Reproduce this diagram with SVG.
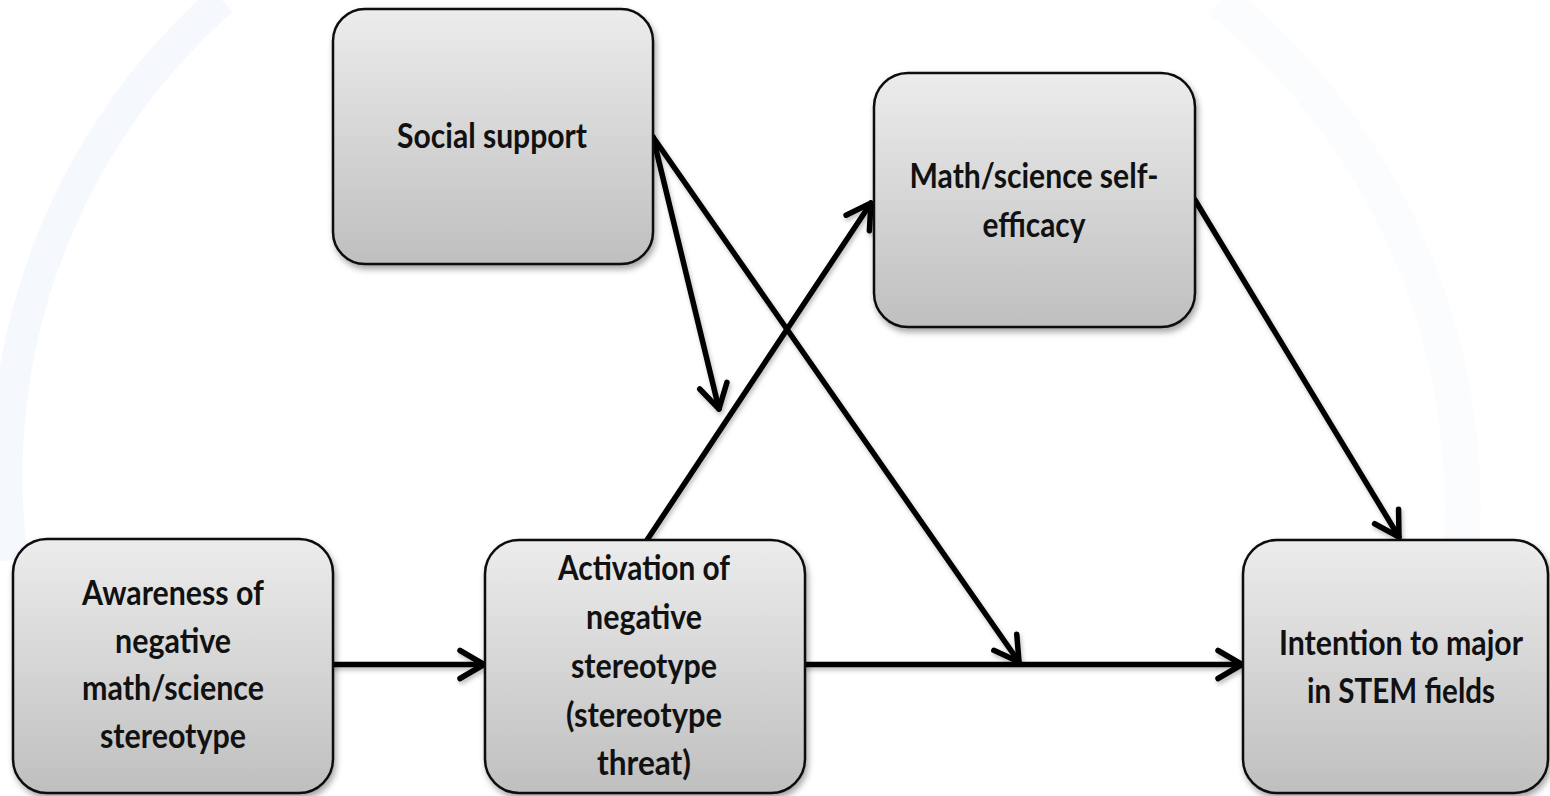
<svg xmlns="http://www.w3.org/2000/svg" width="1550" height="796" viewBox="0 0 1550 796">
<style>
.node rect { fill: url(#g); stroke: #0d0d0d; stroke-width: 2.5; filter: url(#sh); }
.node text { font-family: Lato, "Open Sans", "Liberation Sans", sans-serif; font-weight: bold; font-size: 35px; fill: #111; text-anchor: middle; }
.conn line { stroke: #000; stroke-width: 5.5; stroke-linecap: round; fill: none; marker-end: url(#ah); }
</style>
<defs>
<linearGradient id="g" x1="0" y1="0" x2="0" y2="1">
<stop offset="0" stop-color="#ececec"/>
<stop offset="1" stop-color="#bfbfbf"/>
</linearGradient>
<filter id="sh" x="-10%" y="-10%" width="125%" height="125%">
<feDropShadow dx="2" dy="4" stdDeviation="3" flood-color="#000" flood-opacity="0.35"/>
</filter>
<filter id="lsh" x="-10%" y="-10%" width="125%" height="125%">
<feDropShadow dx="1.5" dy="3" stdDeviation="2" flood-color="#000" flood-opacity="0.25"/>
</filter>
<marker id="ah" markerUnits="userSpaceOnUse" viewBox="-32 -20 38 40" markerWidth="38" markerHeight="40" refX="0" refY="0" orient="auto">
<path d="M -24,-14 L 0,0 L -24,14" fill="none" stroke="#000" stroke-width="5.5" stroke-linecap="round" stroke-linejoin="round"/>
</marker>
</defs>
<rect width="1550" height="796" fill="#ffffff"/>
<g id="background" fill="none">
<path d="M 222,0 A 635 635 0 0 0 12,560" stroke="#f5f9fd" stroke-width="32"/>
<path d="M 1220,0 A 652 652 0 0 1 1462,540" stroke="#fbfcfd" stroke-width="36"/>
</g>
<g id="connectors" class="conn" filter="url(#lsh)">
<line x1="333" y1="664.5" x2="484" y2="664.5"/>
<line x1="805" y1="664.5" x2="1242" y2="664.5"/>
<line x1="653" y1="137" x2="1019" y2="662"/>
<line x1="653" y1="137" x2="719" y2="409"/>
<line x1="647" y1="540" x2="871" y2="203"/>
<line x1="1195" y1="200" x2="1399" y2="537"/>
</g>
<g id="social-support" class="node">
<rect x="333" y="9" width="320" height="255" rx="32"/>
<text x="492" y="148" textLength="190" lengthAdjust="spacingAndGlyphs">Social support</text>
</g>
<g id="self-efficacy" class="node">
<rect x="874" y="73" width="321" height="254" rx="34"/>
<text x="1034" y="188" textLength="249" lengthAdjust="spacingAndGlyphs">Math/science self-</text>
<text x="1034" y="237" textLength="103" lengthAdjust="spacingAndGlyphs">efficacy</text>
</g>
<g id="awareness" class="node">
<rect x="13" y="539" width="320" height="254" rx="34"/>
<text x="173" y="605" textLength="182" lengthAdjust="spacingAndGlyphs">Awareness of</text>
<text x="173" y="652.5" textLength="116" lengthAdjust="spacingAndGlyphs">negative</text>
<text x="173" y="700" textLength="182" lengthAdjust="spacingAndGlyphs">math/science</text>
<text x="173" y="747.5" textLength="146" lengthAdjust="spacingAndGlyphs">stereotype</text>
</g>
<g id="activation" class="node">
<rect x="485" y="540" width="320" height="253" rx="34"/>
<text x="644" y="580" textLength="172" lengthAdjust="spacingAndGlyphs">Activation of</text>
<text x="644" y="629" textLength="116" lengthAdjust="spacingAndGlyphs">negative</text>
<text x="644" y="678" textLength="146" lengthAdjust="spacingAndGlyphs">stereotype</text>
<text x="644" y="727" textLength="156" lengthAdjust="spacingAndGlyphs">(stereotype</text>
<text x="644" y="775" textLength="94" lengthAdjust="spacingAndGlyphs">threat)</text>
</g>
<g id="intention" class="node">
<rect x="1243" y="540" width="305" height="253" rx="34"/>
<text x="1401" y="655" textLength="244" lengthAdjust="spacingAndGlyphs">Intention to major</text>
<text x="1401" y="703" textLength="188" lengthAdjust="spacingAndGlyphs">in STEM fields</text>
</g>
</svg>
